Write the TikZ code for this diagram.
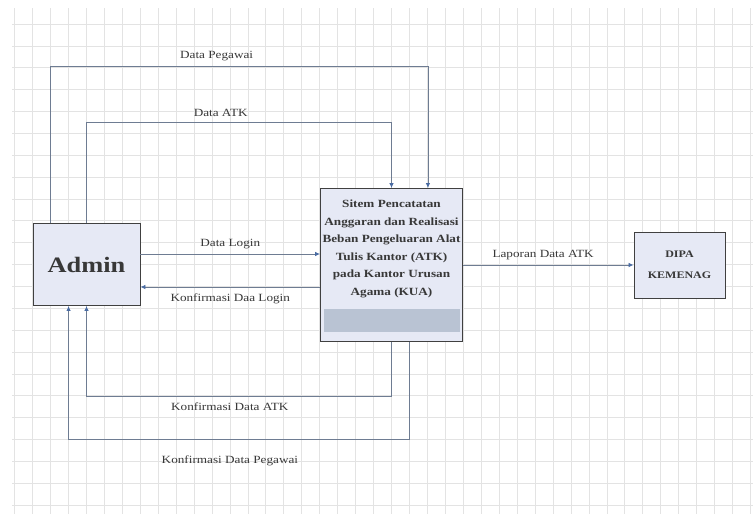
\documentclass[tikz,border=0pt]{standalone}
\usepackage{fontspec}
\setmainfont{Liberation Serif}[FakeStretch=1.2]
\usetikzlibrary{arrows.meta}
\definecolor{kotak}{HTML}{E6E9F5}
\definecolor{garis}{HTML}{6E7C92}
\definecolor{panah}{HTML}{4A6CA3}
\definecolor{tulisan}{HTML}{383838}
\definecolor{pita}{HTML}{B9C3D3}
\tikzset{
  entitas/.style={draw=black!75,line width=0.9pt,fill=kotak,text=tulisan,inner sep=0pt},
  alur/.style={draw=garis,line width=0.8pt,-{Latex[length=5pt,width=4.5pt,color=panah]}},
  label/.style={text=tulisan,font=\fontsize{11}{13}\selectfont,inner sep=1pt}
}
\begin{document}
\begin{tikzpicture}[x=1pt,y=-1pt]
  \useasboundingbox (0,0) rectangle (753,514);
  \fill[white] (0,0) rectangle (753,514);
  % Grid
  \foreach \i in {0,...,41} {
    \draw[black!11,line width=0.7pt] ({14.5+17.95*\i},8) -- ++(0,506);
  }
  \foreach \j in {0,...,22} {
    \draw[black!11,line width=0.7pt] (12,{24+21.87*\j}) -- ++(741,0);
  }
  % Entities
  \node[entitas,minimum width=107pt,minimum height=82pt,
        font=\fontsize{22}{24}\bfseries] (admin) at (86.5,264.5) {Admin};
  \node[entitas,minimum width=142pt,minimum height=153pt] (sistem) at (391.5,265) {};
  \node[fill=pita,minimum width=136pt,minimum height=23pt,inner sep=0pt] (pita) at (391.5,320) {};
  \node[text=tulisan,align=center,font=\fontsize{11}{17.5}\bfseries\selectfont] (judul) at (391.5,249)
    {Sitem Pencatatan\\Anggaran dan Realisasi\\Beban Pengeluaran Alat\\Tulis Kantor (ATK)\\pada Kantor Urusan\\Agama (KUA)};
  \node[entitas,minimum width=91pt,minimum height=66pt,align=center,
        font=\fontsize{10}{21}\bfseries\selectfont] (dipa) at (679.5,265) {DIPA\\KEMENAG};
  % Data flows from Admin
  \draw[alur] ([xshift=18pt]admin.north west) -- ++(0,-157)
    -| node[label,pos=0.22,above=4pt] {Data Pegawai} ([xshift=-35pt]sistem.north east);
  \draw[alur] (admin.north) -- ++(0,-101)
    -| node[label,pos=0.22,above=4pt] {Data ATK} (sistem.north);
  \coordinate (login) at ([yshift=10.5pt]admin.east);
  \coordinate (konfLogin) at ([yshift=-22.5pt]admin.east);
  \draw[alur] (login) -- node[label,above=4pt] {Data Login} (login -| sistem.west);
  \draw[alur] (konfLogin -| sistem.west) -- node[label,below=5pt] {Konfirmasi Daa Login} (konfLogin);
  % Report
  \draw[alur] (sistem.east) -- node[label,pos=0.47,above=4pt] {Laporan Data ATK} (sistem.east -| dipa.west);
  % Confirmations back to Admin
  \draw[alur] (sistem.south) -- ++(0,54.5)
    -| node[label,pos=0.265,below=5pt] {Konfirmasi Data ATK} (admin.south);
  \draw[alur] ([xshift=17.5pt]sistem.south) -- ++(0,97.5)
    -| node[label,pos=0.263,below=15pt] {Konfirmasi Data Pegawai} ([xshift=36pt]admin.south west);
\end{tikzpicture}
\end{document}
